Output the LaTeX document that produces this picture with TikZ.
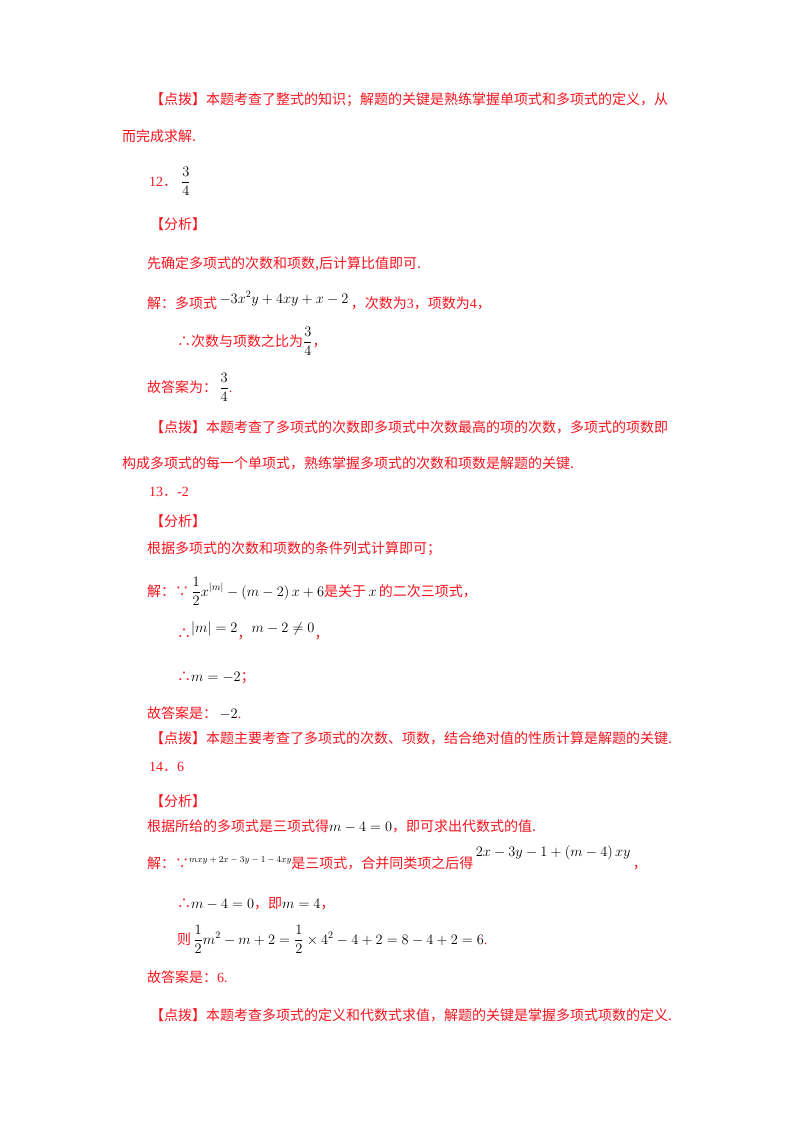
\documentclass[tikz,border=0pt]{standalone}
\usepackage{amsmath}
\usepackage{fontspec}
\setmainfont{Liberation Serif}
\newfontfamily\cjk{Noto Sans CJK SC}
\definecolor{rd}{RGB}{245,20,30}
\newcommand{\z}[1]{{\cjk\color{rd}#1}}
\newcommand{\w}[1]{{\color{rd}#1}}
\begin{document}
\begin{tikzpicture}[x=1pt,y=-1pt,
  ln/.style={anchor=base west,inner sep=0pt,font=\fontsize{14}{17}\selectfont,text=black}]
\useasboundingbox (0,0) rectangle (800,1132);
\node[ln] (l1) at (150,104) {\z{【点拨】本题考查了整式的知识；解题的关键是熟练掌握单项式和多项式的定义，从}};
\node[ln] (l2) at (122,141) {\z{而完成求解.}};
\node[ln] (l3) at (149,186) {\w{12}\z{．}\hspace{4pt}$\dfrac{3}{4}$};
\node[ln] (l4) at (150,229) {\z{【分析】}};
\node[ln] (l5) at (147,268) {\z{先确定多项式的次数和项数,后计算比值即可.}};
\node[ln] (l6) at (147,308) {\z{解：多项式}\,\raisebox{5pt}{$-3x^2y+4xy+x-2$}\,\z{，次数为}\w{3}\z{，项数为}\w{4}\z{，}};
\node[ln] (l7) at (177,346) {\z{∴次数与项数之比为}$\dfrac{3}{4}$\z{，}};
\node[ln] (l8) at (147,392) {\z{故答案为：}\,$\dfrac{3}{4}$\w{.}};
\node[ln] (l9) at (150,432) {\z{【点拨】本题考查了多项式的次数即多项式中次数最高的项的次数，多项式的项数即}};
\node[ln] (l10) at (122,468) {\z{构成多项式的每一个单项式，熟练掌握多项式的次数和项数是解题的关键.}};
\node[ln] (l11) at (149,496) {\w{13}\z{．}\w{-2}};
\node[ln] (l12) at (150,526) {\z{【分析】}};
\node[ln] (l13) at (147,553) {\z{根据多项式的次数和项数的条件列式计算即可；}};
\node[ln] (l14) at (147,596) {\z{解：∵}\,$\dfrac{1}{2}x^{|m|}-\left(m-2\right)x+6$\z{是关于}\,$x$\,\z{的二次三项式，}};
\node[ln] (l15) at (177,638) {\z{∴}\raisebox{6pt}{$|m|=2$}\z{，}\raisebox{6pt}{$m-2\neq0$}\z{，}};
\node[ln] (l16) at (177,681) {\z{∴}$m=-2$\z{；}};
\node[ln] (l17) at (147,718) {\z{故答案是：}\,$-2$\w{.}};
\node[ln] (l18) at (150,743) {\z{【点拨】本题主要考查了多项式的次数、项数，结合绝对值的性质计算是解题的关键.}};
\node[ln] (l19) at (149,771) {\w{14}\z{．}\w{6}};
\node[ln] (l20) at (150,806) {\z{【分析】}};
\node[ln] (l21) at (147,831) {\z{根据所给的多项式是三项式得}$m-4=0$\z{，即可求出代数式的值.}};
\node[ln] (l22) at (147,868) {\z{解：∵}\raisebox{6pt}{\small$mxy+2x-3y-1-4xy$}\z{是三项式，合并同类项之后得}\,\raisebox{12pt}{$2x-3y-1+\left(m-4\right)xy$}\,\z{，}};
\node[ln] (l23) at (177,908) {\z{∴}$m-4=0$\z{，即}$m=4$\z{，}};
\node[ln] (l24) at (177,944) {\z{则}\,$\dfrac{1}{2}m^2-m+2=\dfrac{1}{2}\times4^2-4+2=8-4+2=6$\w{.}};
\node[ln] (l25) at (147,982) {\z{故答案是：}\w{6.}};
\node[ln] (l26) at (150,1020) {\z{【点拨】本题考查多项式的定义和代数式求值，解题的关键是掌握多项式项数的定义.}};
\end{tikzpicture}
\end{document}
